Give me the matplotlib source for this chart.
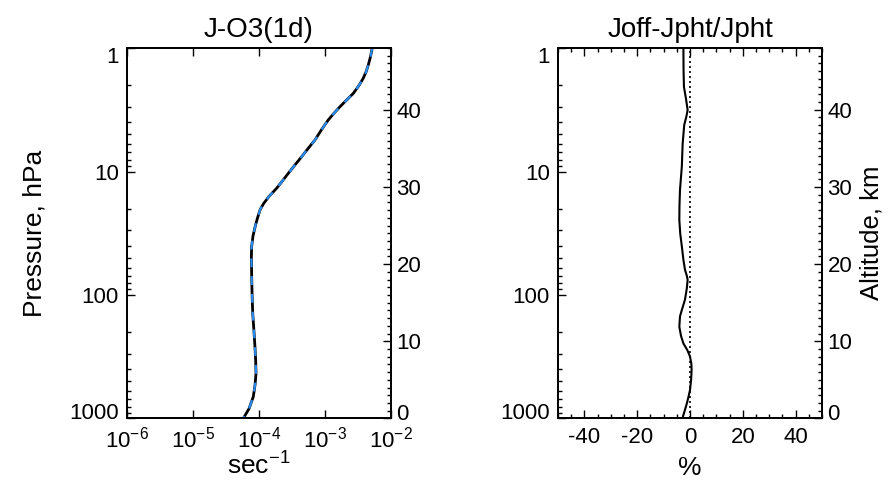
import numpy as np
import matplotlib
matplotlib.use("Agg")
import matplotlib.pyplot as plt
import matplotlib.transforms as mtransforms
from matplotlib.ticker import FixedLocator, FuncFormatter, NullFormatter, MultipleLocator, LogLocator

plt.rcParams['font.family'] = ['Liberation Sans', 'DejaVu Sans']
plt.rcParams['mathtext.fontset'] = 'custom'
plt.rcParams['mathtext.rm'] = 'Liberation Sans'
plt.rcParams['mathtext.it'] = 'Liberation Sans'
plt.rcParams['mathtext.default'] = 'regular'
plt.rcParams['axes.unicode_minus'] = False

# O3 -> O(1D) photolysis rate profile (sec^-1) versus pressure (hPa)
jo3_pressure = [1.0, 1.04, 1.175, 1.374, 1.549, 1.758, 1.995, 2.328, 2.63, 2.985,
                3.388, 3.828, 4.571, 5.559, 6.457, 7.586, 8.913, 10.35, 12.02, 13.68,
                15.85, 18.11, 20.42, 23.99, 27.99, 33.11, 40.64, 50.12, 66.68, 95.5,
                140.6, 199.5, 262.4, 338.8, 430.5, 537.0, 666.8, 831.8, 1000.0]
jo3_rate = [5.19e-3, 5.13e-3, 4.90e-3, 4.53e-3, 4.22e-3, 3.80e-3, 3.31e-3, 2.69e-3,
            2.14e-3, 1.69e-3, 1.36e-3, 1.12e-3, 8.91e-4, 7.05e-4, 5.62e-4, 4.44e-4,
            3.47e-4, 2.78e-4, 2.24e-4, 1.85e-4, 1.43e-4, 1.18e-4, 1.04e-4, 9.45e-5,
            8.75e-5, 8.13e-5, 7.74e-5, 7.67e-5, 7.74e-5, 7.85e-5, 8.04e-5, 8.41e-5,
            8.69e-5, 8.91e-5, 9.02e-5, 8.71e-5, 8.20e-5, 7.08e-5, 5.78e-5]

# Relative difference (Joff-Jpht)/Jpht in percent versus pressure (hPa)
diff_pressure = [1.0, 1.04, 1.5, 2.06, 2.6, 3.18, 3.6, 4.2, 6.0, 9.1, 14.1, 19.0, 24.7,
                 32.0, 40.4, 52.0, 62.6, 70.0, 75.4, 88.0, 109.0, 130.0, 149.0, 181.0,
                 215.0, 247.0, 280.0, 315.0, 360.0, 405.0, 490.0, 587.0, 670.0, 755.0,
                 937.0, 1000.0]
diff_percent = [-2.5, -2.5, -2.45, -2.3, -1.5, -0.9, -1.4, -2.2, -2.8, -3.1, -3.8, -4.0,
                -4.05, -3.7, -3.1, -2.5, -1.9, -1.2, -0.9, -1.2, -1.9, -3.0, -3.8, -4.05,
                -3.4, -2.5, -1.0, 0.0, 0.5, 0.6, 0.4, 0.0, -0.6, -1.2, -2.5, -2.9]

pressure_ticks = [1, 10, 100, 1000]
altitude_ticks = [0, 10, 20, 30, 40]
altitude_range = (0, 48)
rate_ticks = [1e-6, 1e-5, 1e-4, 1e-3, 1e-2]
percent_ticks = [-40, -20, 0, 20, 40]

FS = 16
LABEL_FS = 19
TITLE_FS = 20

fig = plt.figure(figsize=(8.93, 4.87), dpi=100)
ax1 = fig.add_axes([0.1422, 0.1407, 0.2956, 0.7607])
ax2 = fig.add_axes([0.6249, 0.1407, 0.2956, 0.7607])


def shift_label(text, dy_px):
    off = mtransforms.ScaledTranslation(0, dy_px / 100.0, fig.dpi_scale_trans)
    text.set_transform(text.get_transform() + off)


def style_pressure_axis(ax):
    ax.set_yscale('log')
    ax.set_ylim(1000, 1)
    ax.yaxis.set_major_locator(FixedLocator(pressure_ticks))
    ax.yaxis.set_minor_locator(LogLocator(base=10, subs=np.arange(2, 10)))
    ax.yaxis.set_major_formatter(FuncFormatter(lambda v, pos: f"{v:g}"))
    ax.yaxis.set_minor_formatter(NullFormatter())
    ax.tick_params(which='both', direction='in', top=True, right=False, left=True,
                   labelsize=FS, width=1.0)
    ax.tick_params(which='major', length=6, pad=6)
    ax.tick_params(which='minor', length=3)
    for s in ax.spines.values():
        s.set_linewidth(1.3)
    # altitude scale on the right (linear in log-pressure)
    alt = ax.twinx()
    alt.set_ylim(*altitude_range)
    alt.yaxis.set_major_locator(FixedLocator(altitude_ticks))
    alt.yaxis.set_minor_locator(MultipleLocator(1))
    alt.tick_params(which='both', direction='in', labelsize=FS, width=1.0,
                    left=False, right=True)
    alt.tick_params(which='major', length=6, pad=4)
    alt.tick_params(which='minor', length=3)
    for s in alt.spines.values():
        s.set_linewidth(1.3)
    return alt


# Left panel: photolysis rate
ax1.plot(jo3_rate, jo3_pressure, color='black', lw=2.0, solid_capstyle='round')
ax1.plot(jo3_rate, jo3_pressure, color='#2a8cf0', lw=1.6, dashes=(4, 4))
ax1.set_xscale('log')
ax1.set_xlim(1e-6, 1e-2)
ax1.xaxis.set_major_locator(FixedLocator(rate_ticks))
ax1.xaxis.set_minor_locator(LogLocator(base=10, subs=np.arange(2, 10)))
ax1.xaxis.set_major_formatter(FuncFormatter(lambda v, pos: r"10$^{%d}$" % round(np.log10(v))))
ax1.xaxis.set_minor_formatter(NullFormatter())
alt1 = style_pressure_axis(ax1)
ax1.set_title('J-O3(1d)', fontsize=TITLE_FS, pad=8)
ax1.set_xlabel(r'sec$^{-1}$', fontsize=LABEL_FS, labelpad=0)
ax1.set_ylabel('Pressure, hPa', fontsize=LABEL_FS, labelpad=16)

# Right panel: relative difference
ax2.axvline(0, color='black', lw=1.2, ls=(0, (1.2, 1.8)))
ax2.plot(diff_percent, diff_pressure, color='black', lw=1.5)
ax2.set_xlim(-50, 50)
ax2.xaxis.set_major_locator(FixedLocator(percent_ticks))
ax2.xaxis.set_minor_locator(MultipleLocator(5))
alt2 = style_pressure_axis(ax2)
ax2.set_title('Joff-Jpht/Jpht', fontsize=TITLE_FS, pad=8)
ax2.set_xlabel('%', fontsize=LABEL_FS, labelpad=6)
alt2.set_ylabel('Altitude, km', fontsize=18.5, labelpad=5)

# keep the end labels of the vertical axes inside the frame
fig.canvas.draw()
for ax in (ax1, ax2):
    ticks = ax.yaxis.get_major_ticks()
    shift_label(ticks[0].label1, -7)    # 1 hPa
    shift_label(ticks[-1].label1, 7)    # 1000 hPa
for alt in (alt1, alt2):
    ticks = alt.yaxis.get_major_ticks()
    shift_label(ticks[0].label2, 6)     # 0 km

fig.savefig('out.png', dpi=100)
